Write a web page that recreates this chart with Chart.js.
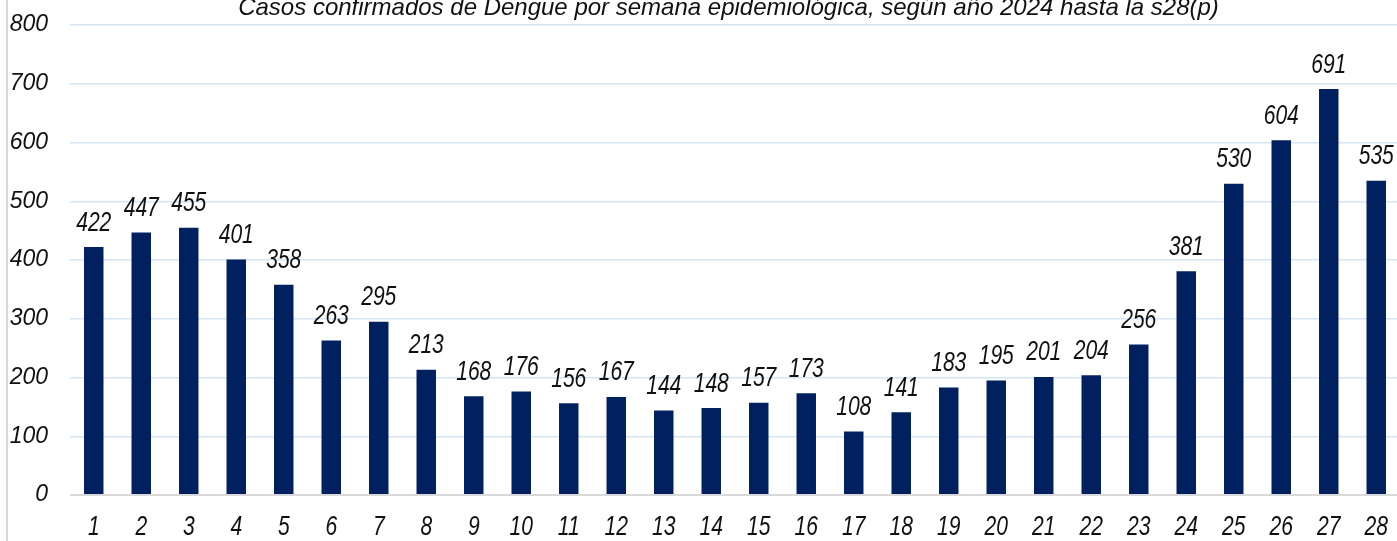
<!DOCTYPE html>
<html>
<head>
<meta charset="utf-8">
<script src="https://cdn.jsdelivr.net/npm/chart.js@4.4.1/dist/chart.umd.min.js"></script>
<style>
  html, body { margin: 0; padding: 0; overflow: hidden; background: #fff; width: 1397px; height: 541px; }
  #wrap { position: relative; width: 1397px; height: 541px; overflow: hidden; }
  canvas { position: absolute; left: 0; top: 0; }
</style>
</head>
<body>
<div id="wrap"><canvas id="c" width="1400" height="541"></canvas></div>
<script>
const titleText = 'Casos confirmados de Dengue por semana epidemiológica, según año 2024 hasta la s28(p)';
const weeks = ['1','2','3','4','5','6','7','8','9','10','11','12','13','14','15','16','17','18','19','20','21','22','23','24','25','26','27','28'];
const cases = [422,447,455,401,358,263,295,213,168,176,156,167,144,148,157,173,108,141,183,195,201,204,256,381,530,604,691,535];
const yTicks = [0,100,200,300,400,500,600,700,800];

const FONT = "'Liberation Sans', Arial, sans-serif";
const NARROW = 0.78; // horizontal squeeze to imitate a narrow face

function patchNarrow(scale) {
  if (scale._narrowPatched) return;
  scale._narrowPatched = true;
  const orig = scale.drawLabels;
  scale.drawLabels = function (chartArea) {
    const ctx = this.ctx;
    const origRotate = ctx.rotate;
    ctx.rotate = function (a) { origRotate.call(this, a); this.scale(NARROW, 1); };
    try { orig.call(this, chartArea); } finally { ctx.rotate = origRotate; }
  };
}

const extrasPlugin = {
  id: 'extras',
  beforeDraw(chart) {
    const ctx = chart.ctx;
    ctx.save();
    ctx.fillStyle = '#d9d9d9';
    ctx.fillRect(6, 0, 2, chart.height);
    ctx.restore();
  },
  afterDatasetsDraw(chart) {
    const ctx = chart.ctx;
    const meta = chart.getDatasetMeta(0);
    ctx.save();
    ctx.font = 'italic 27px ' + FONT;
    ctx.fillStyle = '#111';
    ctx.textAlign = 'center';
    ctx.textBaseline = 'alphabetic';
    meta.data.forEach((bar, i) => {
      ctx.save();
      ctx.translate(bar.x, bar.y - 16.5);
      ctx.scale(NARROW, 1);
      ctx.fillText(String(chart.data.datasets[0].data[i]), 0, 0);
      ctx.restore();
    });
    ctx.font = 'italic 24px ' + FONT;
    ctx.fillText(titleText, 728.5, 15);
    ctx.restore();
  }
};

new Chart(document.getElementById('c'), {
  type: 'bar',
  data: {
    labels: weeks,
    datasets: [{
      data: cases,
      backgroundColor: '#002060',
      borderWidth: 0,
      barPercentage: 0.41,
      categoryPercentage: 1
    }]
  },
  options: {
    responsive: false,
    animation: false,
    devicePixelRatio: 1,
    layout: { padding: { top: 25, left: 0, right: 0, bottom: 0 } },
    plugins: { legend: { display: false }, tooltip: { enabled: false }, title: { display: false } },
    scales: {
      x: {
        grid: { display: false, drawTicks: false },
        border: { display: false },
        ticks: { color: '#111', font: { family: FONT, size: 27, style: 'italic' }, padding: 16, maxRotation: 0, autoSkip: false },
        afterFit(scale) { scale.height = 46; scale.paddingLeft = 0; scale.paddingRight = 0; patchNarrow(scale); }
      },
      y: {
        min: 0, max: 800,
        afterBuildTicks(scale) { scale.ticks = yTicks.map(v => ({ value: v })); },
        grid: {
          drawTicks: false,
          color: (c) => c.tick && c.tick.value === 0 ? '#d9d9d9' : '#d6e5f4',
          lineWidth: (c) => c.tick && c.tick.value === 0 ? 2 : 1.5
        },
        border: { display: false },
        ticks: { color: '#111', font: { family: FONT, size: 23, style: 'italic' }, padding: 22 },
        afterFit(scale) { scale.width = 70; scale.paddingTop = 0; scale.paddingBottom = 0; }
      }
    }
  },
  plugins: [extrasPlugin]
});
</script>
</body>
</html>
